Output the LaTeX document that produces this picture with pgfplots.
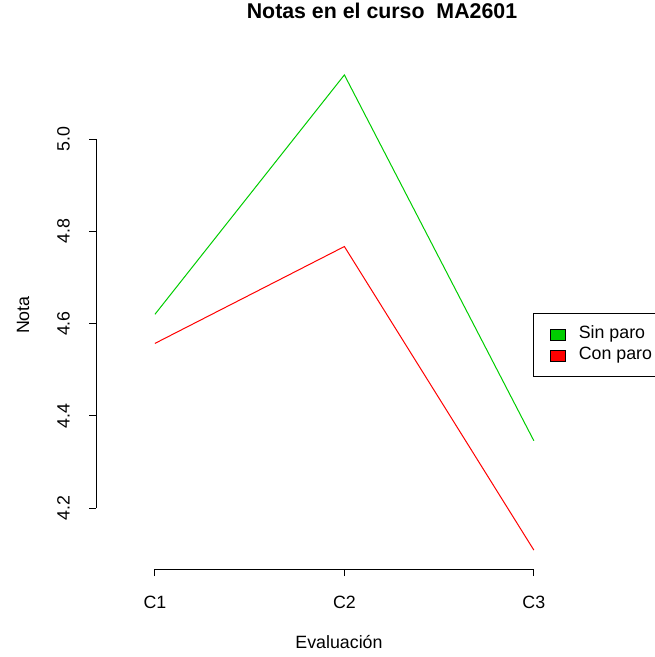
\documentclass[border=0pt]{standalone}
\usepackage{fontspec}
\setmainfont{Liberation Sans}
\usepackage{pgfplots}
\pgfplotsset{compat=1.18}
\definecolor{grn}{HTML}{00CD00}
\begin{document}
\fontsize{13.35}{16}\selectfont
\begin{tikzpicture}
\path[use as bounding box] (0,0) rectangle (490.5pt,492.75pt);
\begin{axis}[
 at={(72pt,66pt)}, anchor=south west,
 scale only axis, width=339.75pt, height=384.75pt,
 xmin=0.689, xmax=3.08, ymin=4.068, ymax=5.180,
 axis lines*=left, axis line style={draw=none},
 xtick={1,2,3}, xticklabels={C1,C2,C3},
 ytick={4.2,4.4,4.6,4.8,5.0},
 yticklabel={\pgfmathprintnumber[fixed,fixed zerofill,precision=1]{\tick}},
 /pgf/number format/assume math mode=true,
 tick align=outside, major tick length=5.25pt,
 tick style={black, line width=0.75pt},
 xticklabel style={anchor=north, inner sep=0pt},
 xticklabel shift=15pt,
 yticklabel style={rotate=90, anchor=south, inner sep=0pt},
 yticklabel shift=14.25pt,
 xlabel={Evaluación},
 xlabel style={at={(axis description cs:0.5364,-0.1423)}, anchor=center, inner sep=0pt},
 ylabel={Nota},
 ylabel style={at={(axis description cs:-0.161,0.495)}, anchor=center, rotate=0, inner sep=0pt},
 title={\fontsize{16}{19}\selectfont\bfseries Notas en el curso\ \ MA2601},
 title style={at={(axis description cs:0.6313,1.0721)}, anchor=center, inner sep=0pt},
 clip=false,
 legend cell align=left,
 legend style={at={(axis description cs:0.9647,0.499)}, anchor=north west,
   draw=black, line width=0.75pt, inner xsep=12pt, inner ysep=9.5pt,
   nodes={inner xsep=0pt, inner ysep=0pt, text height=9.6pt, text depth=3pt},
   row sep=3.15pt,
   /tikz/every odd column/.append style={column sep=10pt}},
]
\addplot[grn, line width=0.75pt, forget plot] coordinates {(1,4.62) (2,5.139) (3,4.346)};
\addplot[red, line width=0.75pt, forget plot] coordinates {(1,4.557) (2,4.767) (3,4.109)};
\draw[line width=0.75pt] (axis cs:0.689,4.2) -- (axis cs:0.689,5.0);
\draw[line width=0.75pt] (axis cs:1,4.068) -- (axis cs:3,4.068);
\addlegendimage{legend image code/.code={\draw[fill=grn,draw=black,line width=0.75pt] (0pt,-4.1pt) rectangle (11.25pt,4.1pt);}}
\addlegendentry{Sin paro}
\addlegendimage{legend image code/.code={\draw[fill=red,draw=black,line width=0.75pt] (0pt,-4.1pt) rectangle (11.25pt,4.1pt);}}
\addlegendentry{Con paro}
\end{axis}
\end{tikzpicture}
\end{document}
